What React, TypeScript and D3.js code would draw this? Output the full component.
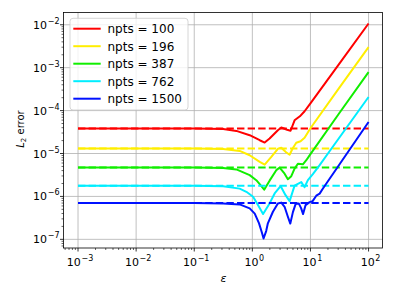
import React from 'react';
import * as d3 from 'd3';

// ---------- data ----------
const seriesLabels = ['npts = 100', 'npts = 196', 'npts = 387', 'npts = 762', 'npts = 1500'];
const seriesColors = ['#ff0000', '#ffee00', '#11ee00', '#00eeff', '#0011ff'];

const eps100 = [0.001, 0.1, 0.315, 0.531, 0.90, 1.34, 1.63, 1.98, 2.75, 3.15, 3.96, 4.55, 5.33, 6.58, 7.93, 10, 31.7, 100];
const err100 = [3.81e-5, 3.81e-5, 3.72e-5, 3.36e-5, 2.67e-5, 2.04e-5, 1.80e-5, 2.23e-5, 3.48e-5, 4.03e-5, 3.57e-5, 3.39e-5, 5.94e-5, 7.36e-5, 9.64e-5, 1.48e-4, 1.26e-3, 1.07e-2];

const eps196 = [0.001, 0.1, 0.315, 0.605, 0.90, 1.34, 1.63, 2.12, 2.75, 3.15, 3.81, 4.38, 4.93, 5.70, 6.76, 7.93, 10, 31.7, 100];
const err196 = [1.31e-5, 1.31e-5, 1.27e-5, 1.15e-5, 9.12e-6, 6.38e-6, 5.50e-6, 8.34e-6, 1.29e-5, 1.36e-5, 1.07e-5, 9.37e-6, 1.31e-5, 1.78e-5, 1.93e-5, 2.33e-5, 3.87e-5, 3.48e-4, 3.01e-3];

const eps387 = [0.001, 0.1, 0.315, 0.531, 0.90, 1.17, 1.43, 1.60, 1.98, 2.58, 2.95, 3.59, 4.09, 4.68, 5.33, 6.08, 7.41, 8.48, 10, 31.7, 100];
const err387 = [4.72e-6, 4.72e-6, 4.60e-6, 4.25e-6, 3.13e-6, 2.39e-6, 1.74e-6, 1.44e-6, 2.33e-6, 4.09e-6, 4.68e-6, 3.39e-6, 2.52e-6, 2.96e-6, 4.44e-6, 5.79e-6, 5.6e-6, 6.98e-6, 9.64e-6, 8.89e-5, 7.91e-4];

const eps762 = [0.001, 0.1, 0.315, 0.605, 0.789, 1.03, 1.25, 1.53, 1.98, 2.42, 3.06, 3.73, 4.38, 5.33, 6.95, 7.93, 9.03, 11.0, 14.4, 20.0, 100];
const err762 = [1.77e-6, 1.77e-6, 1.72e-6, 1.52e-6, 1.28e-6, 9.79e-7, 6.28e-7, 3.88e-7, 6.87e-7, 1.17e-6, 1.74e-6, 1.07e-6, 7.78e-7, 1.78e-6, 2.15e-6, 1.64e-6, 2.39e-6, 3.30e-6, 5.35e-6, 1.0e-5, 2.07e-4];

const eps1500 = [0.001, 0.1, 0.315, 0.605, 0.90, 1.10, 1.30, 1.45, 1.56, 1.73, 1.85, 2.26, 2.75, 3.15, 3.59, 4.09, 4.50, 4.99, 5.55, 6.32, 6.90, 7.47, 8.25, 9.68, 10.9, 12.6, 14.4, 16.4, 100];
const err1500 = [6.98e-7, 6.98e-7, 6.87e-7, 6.51e-7, 5.26e-7, 3.98e-7, 2.39e-7, 1.48e-7, 1.05e-7, 1.56e-7, 2.36e-7, 4.39e-7, 6.81e-7, 7.18e-7, 5.73e-7, 3.36e-7, 2.33e-7, 4.31e-7, 6.62e-7, 6.81e-7, 5.35e-7, 3.88e-7, 6.28e-7, 7.36e-7, 7.78e-7, 1.04e-6, 1.16e-6, 1.53e-6, 5.43e-5];

// asymptotic (flat) reference levels, drawn dashed
const refLevels = [3.81e-5, 1.31e-5, 4.72e-6, 1.77e-6, 6.98e-7];
const refRange = [0.001, 100];

const epsAll = [eps100, eps196, eps387, eps762, eps1500];
const errAll = [err100, err196, err387, err762, err1500];

// ---------- layout ----------
const W = 396;
const H = 297;
const L = 63.5, R = 382.5, T = 12.5, B = 248;
const FONT = 'DejaVu Sans, sans-serif';

const x = d3.scaleLog().domain([10 ** -3.25, 10 ** 2.24]).range([L, R]);
const y = d3.scaleLog().domain([10 ** -7.202, 10 ** -1.714]).range([B, T]);

const isMajor = (v: number) => Math.abs(Math.log10(v) - Math.round(Math.log10(v))) < 1e-9;

function PowLabel({ v, ...rest }: any) {
  const e = Math.round(Math.log10(v));
  const s = e < 0 ? '\u2212' + Math.abs(e) : String(e);
  return (
    <text fontFamily={FONT} fontSize={11} fill="#000" {...rest}>
      <tspan>10</tspan>
      <tspan fontSize={8} dx={0.6} dy={-5}>{s}</tspan>
    </text>
  );
}

export default function App() {
  const line = d3
    .line<[number, number]>()
    .x((d) => x(d[0]))
    .y((d) => y(d[1]));

  const xTicks = x.ticks().filter((v) => v >= x.domain()[0] && v <= x.domain()[1]);
  const yTicks = y.ticks().filter((v) => v >= y.domain()[0] && v <= y.domain()[1]);
  const xMajor = xTicks.filter(isMajor);
  const yMajor = yTicks.filter(isMajor);
  const xMinor = xTicks.filter((v) => !isMajor(v));
  const yMinor = yTicks.filter((v) => !isMajor(v));

  return (
    <svg width={W} height={H} style={{ position: 'absolute', left: 0, top: 0, background: '#fff' }}>
      <rect x={0} y={0} width={W} height={H} fill="#fff" />
      {/* grid */}
      <g stroke="#b0b0b0" strokeWidth={0.8}>
        {xMajor.map((v) => (
          <line key={'gx' + v} x1={x(v)} x2={x(v)} y1={T} y2={B} />
        ))}
        {yMajor.map((v) => (
          <line key={'gy' + v} x1={L} x2={R} y1={y(v)} y2={y(v)} />
        ))}
      </g>
      {/* series */}
      <defs>
        <clipPath id="plotclip">
          <rect x={L} y={T} width={R - L} height={B - T} />
        </clipPath>
      </defs>
      <g clipPath="url(#plotclip)" fill="none" strokeWidth={2}>
        {epsAll.map((eps, i) => {
          const pts = eps.map((e, j) => [e, errAll[i][j]] as [number, number]);
          const ref = refRange.map((e) => [e, refLevels[i]] as [number, number]);
          return (
            <g key={'s' + i} stroke={seriesColors[i]}>
              <path d={line(pts) || ''} strokeLinejoin="round" />
              <path d={line(ref) || ''} strokeDasharray="7.4,3.2" />
            </g>
          );
        })}
      </g>
      {/* axes frame */}
      <rect x={L} y={T} width={R - L} height={B - T} fill="none" stroke="#000" strokeWidth={0.8} />
      {/* ticks */}
      <g stroke="#000" strokeWidth={0.8}>
        {xMajor.map((v) => (
          <line key={'xt' + v} x1={x(v)} x2={x(v)} y1={B} y2={B + 3.5} />
        ))}
        {xMinor.map((v) => (
          <line key={'xm' + v} x1={x(v)} x2={x(v)} y1={B} y2={B + 2} strokeWidth={0.6} />
        ))}
        {yMajor.map((v) => (
          <line key={'yt' + v} x1={L} x2={L - 3.5} y1={y(v)} y2={y(v)} />
        ))}
        {yMinor.map((v) => (
          <line key={'ym' + v} x1={L} x2={L - 2} y1={y(v)} y2={y(v)} strokeWidth={0.6} />
        ))}
      </g>
      {xMajor.map((v) => (
        <PowLabel key={'xl' + v} v={v} x={x(v) + 2} y={265.5} textAnchor="middle" />
      ))}
      {yMajor.map((v) => (
        <PowLabel key={'yl' + v} v={v} x={59.5} y={y(v) + 4} textAnchor="end" />
      ))}
      {/* axis labels */}
      <text x={223.5} y={281.5} fontFamily={FONT} fontSize={11} fontStyle="italic" textAnchor="middle">
        ε
      </text>
      <text
        transform="translate(24,129) rotate(-90)"
        fontFamily={FONT}
        fontSize={10}
        textAnchor="middle"
      >
        <tspan fontStyle="italic">L</tspan>
        <tspan fontSize={7} dy={2}>2</tspan>
        <tspan dy={-2}> error</tspan>
      </text>
      {/* legend */}
      <rect x={70} y={18.3} width={118} height={91.7} rx={3} fill="#fff" fillOpacity={0.8} stroke="#cccccc" strokeWidth={0.8} />
      {seriesLabels.map((lab, i) => {
        const cy = 28.7 + i * 17.5;
        return (
          <g key={'lg' + i}>
            <line x1={73.3} x2={100.7} y1={cy} y2={cy} stroke={seriesColors[i]} strokeWidth={2} />
            <text x={107.5} y={cy + 4.3} fontFamily={FONT} fontSize={12} fill="#000">
              {lab}
            </text>
          </g>
        );
      })}
    </svg>
  );
}
